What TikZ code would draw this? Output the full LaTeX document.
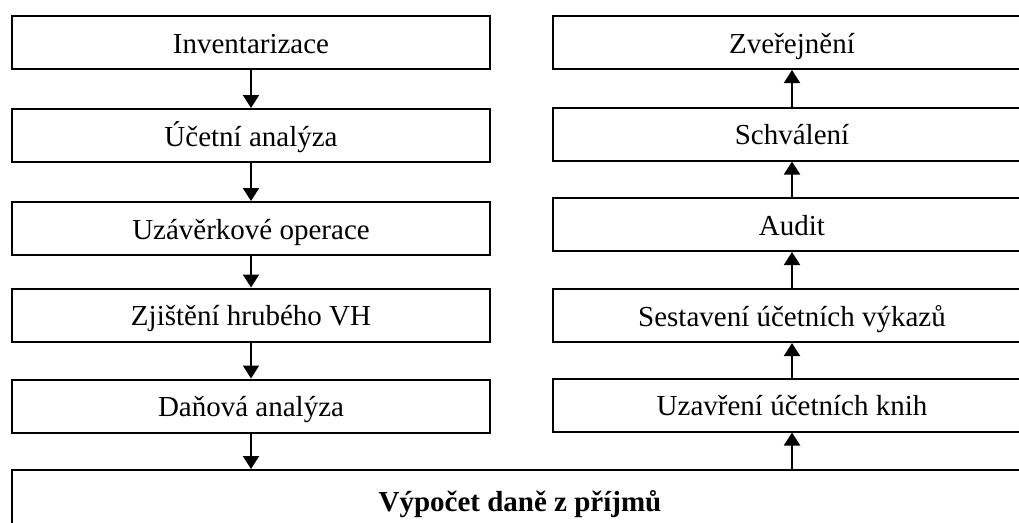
\documentclass[tikz,border=0pt]{standalone}
\usepackage{fontspec}
\setmainfont{Liberation Serif}
\usetikzlibrary{arrows.meta}

\tikzset{
  krok/.style={draw, line width=2pt, minimum width=478pt, minimum height=53pt,
    inner sep=0pt, text height=26pt, text depth=5pt,
    font=\fontsize{29}{34}\selectfont},
  sipka/.style={line width=2pt, -{Triangle[length=13pt, width=16pt]}}
}

\begin{document}
\begin{tikzpicture}[x=1pt, y=-1pt]
  \useasboundingbox (0,0) rectangle (1019,522);
  \clip (0,0) rectangle (1019,522);

  % levy sloupec
  \node[krok] (inv)   at (251,42.5)  {Inventarizace};
  \node[krok] (ucan)  at (251,135.5) {Účetní analýza};
  \node[krok] (uzop)  at (251,228.5) {Uzávěrkové operace};
  \node[krok] (hvh)   at (251,315)   {Zjištění hrubého VH};
  \node[krok] (danan) at (251,406)   {Daňová analýza};

  % pravy sloupec
  \node[krok] (zver)  at (792,42.5)  {Zveřejnění};
  \node[krok] (schv)  at (792,134)   {Schválení};
  \node[krok] (audit) at (792,224.5) {Audit};
  \node[krok] (sest)  at (792,315.5) {Sestavení účetních výkazů};
  \node[krok] (uzkn)  at (792,405)   {Uzavření účetních knih};

  % spolecny krok
  \node[krok, minimum width=1016pt, minimum height=62pt,
    font=\fontsize{29}{34}\selectfont\bfseries] (vyp) at (520,501)
    {Výpočet daně z příjmů};

  \draw[sipka] (inv) -- (ucan);
  \draw[sipka] (ucan) -- (uzop);
  \draw[sipka] (uzop) -- (hvh);
  \draw[sipka] (hvh) -- (danan);
  \draw[sipka] (danan.south) -- (danan.south |- vyp.north);

  \draw[sipka] (vyp.north -| uzkn.south) -- (uzkn.south);
  \draw[sipka] (uzkn) -- (sest);
  \draw[sipka] (sest) -- (audit);
  \draw[sipka] (audit) -- (schv);
  \draw[sipka] (schv) -- (zver);
\end{tikzpicture}
\end{document}
